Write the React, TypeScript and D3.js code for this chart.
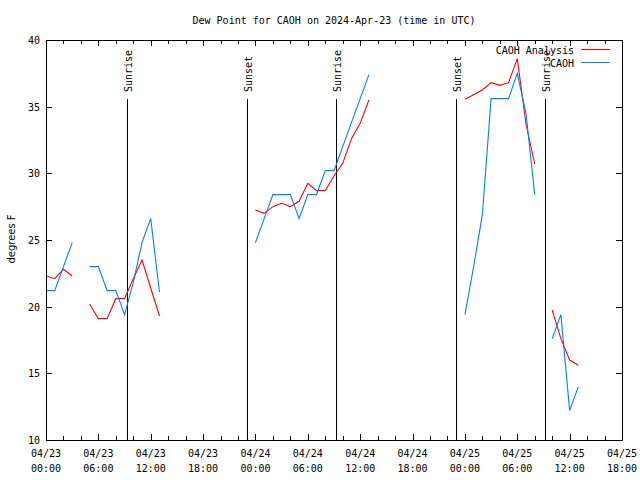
import React from "react";
import * as d3 from "d3";

const hours: number[] = Array.from({ length: 62 }, (_, i) => i);

const analysis: (number | null)[] = [
  22.3, 22.1, 22.8, 22.3, null, 20.2, 19.1, 19.1, 20.6, 20.6, 22.1, 23.5, 21.4, 19.3,
  null, null, null, null, null, null, null, null, null, null,
  27.25, 27.0, 27.5, 27.75, 27.5, 27.9, 29.25, 28.7, 28.7, 29.8, 30.75, 32.6, 33.75, 35.5,
  null, null, null, null, null, null, null, null, null, null,
  35.55, 35.9, 36.25, 36.8, 36.6, 36.8, 38.6, 33.7, 30.7, null, 19.75, 17.6, 16.0, 15.6,
];

const observed: (number | null)[] = [
  21.2, 21.2, 23.0, 24.8, null, 23.0, 23.0, 21.2, 21.2, 19.4, 21.8, 24.8, 26.6, 21.1,
  null, null, null, null, null, null, null, null, null, null,
  24.8, 26.6, 28.4, 28.4, 28.4, 26.6, 28.4, 28.4, 30.2, 30.2, 32.0, 33.8, 35.6, 37.4,
  null, null, null, null, null, null, null, null, null, null,
  19.4, 23.0, 26.9, 35.6, 35.6, 35.6, 37.5, 34.5, 28.4, null, 17.6, 19.4, 12.2, 14.0,
];

const sunEvents: { hour: number; label: string }[] = [
  { hour: 9.28, label: "Sunrise" },
  { hour: 23.03, label: "Sunset" },
  { hour: 33.23, label: "Sunrise" },
  { hour: 46.98, label: "Sunset" },
  { hour: 57.18, label: "Sunrise" },
];

const xTickHours: number[] = [0, 6, 12, 18, 24, 30, 36, 42, 48, 54, 60, 66];
const xTickDates: string[] = ["04/23", "04/23", "04/23", "04/23", "04/24", "04/24", "04/24", "04/24", "04/25", "04/25", "04/25", "04/25"];
const xTickTimes: string[] = ["00:00", "06:00", "12:00", "18:00", "00:00", "06:00", "12:00", "18:00", "00:00", "06:00", "12:00", "18:00"];
const yTicks: number[] = [10, 15, 20, 25, 30, 35, 40];

const seriesNames: string[] = ["CAOH Analysis", "CAOH"];
const seriesColors: string[] = ["#ff0000", "#0080ff"];

const W = 640;
const H = 480;
const L = 46;
const R = 622;
const T = 40;
const B = 440;
const MONO = "'DejaVu Sans Mono', 'Liberation Mono', monospace";

export default function App() {
  const x = d3.scaleLinear().domain([0, 66]).range([L, R]);
  const y = d3.scaleLinear().domain([10, 40]).range([B, T]);

  const mk = (vals: (number | null)[]) =>
    d3
      .line<number | null>()
      .defined((d) => d !== null)
      .x((_, i) => x(hours[i]))
      .y((d) => y(d as number))(vals) || "";

  const minor = d3.range(0, 67, 2);

  return (
    <svg
      width={W}
      height={H}
      style={{ position: "absolute", left: 0, top: 0, background: "#fff" }}
      fontFamily={MONO}
      fontSize={10}
    >
      <rect x={0} y={0} width={W} height={H} fill="#fff" />
      <text x={(L + R) / 2} y={24} textAnchor="middle" fill="#000">
        Dew Point for CAOH on 2024-Apr-23 (time in UTC)
      </text>

      {/* ticks */}
      <g stroke="#000" strokeWidth={1} shapeRendering="crispEdges">
        {minor.map((h) => {
          const major = h % 6 === 0;
          const len = major ? 6 : 4;
          const xx = Math.round(x(h)) + 0.5;
          return (
            <g key={h}>
              <line x1={xx} x2={xx} y1={B} y2={B - len} />
              <line x1={xx} x2={xx} y1={T} y2={T + len} />
            </g>
          );
        })}
        {yTicks.map((v) => {
          const yy = Math.round(y(v)) + 0.5;
          return (
            <g key={v}>
              <line x1={L} x2={L + 6} y1={yy} y2={yy} />
              <line x1={R} x2={R - 6} y1={yy} y2={yy} />
            </g>
          );
        })}
      </g>

      {/* y tick labels */}
      {yTicks.map((v) => (
        <text key={v} x={40} y={y(v) + 4} textAnchor="end" fill="#000">
          {v}
        </text>
      ))}

      {/* x tick labels */}
      {xTickHours.map((h, i) => (
        <g key={h}>
          <text x={x(h)} y={457} textAnchor="middle" fill="#000">
            {xTickDates[i]}
          </text>
          <text x={x(h)} y={472} textAnchor="middle" fill="#000">
            {xTickTimes[i]}
          </text>
        </g>
      ))}

      <text
        transform={`translate(15,239) rotate(-90)`}
        textAnchor="middle"
        fontFamily="'DejaVu Sans', sans-serif"
        fontSize={10}
        fill="#000"
      >
        degrees F
      </text>

      {/* sun events */}
      {sunEvents.map((s, i) => {
        const xx = Math.round(x(s.hour)) + 0.5;
        return (
          <g key={i}>
            <line x1={xx} x2={xx} y1={99} y2={B} stroke="#000" strokeWidth={1} shapeRendering="crispEdges" />
            <text transform={`translate(${xx + 4},92) rotate(-90)`} textAnchor="start" fill="#000">
              {s.label}
            </text>
          </g>
        );
      })}

      {/* data lines */}
      <path d={mk(analysis)} fill="none" stroke={seriesColors[0]} strokeWidth={1.1} />
      <path d={mk(observed)} fill="none" stroke={seriesColors[1]} strokeWidth={1.1} />

      {/* legend */}
      {seriesNames.map((n, i) => (
        <g key={n}>
          <text x={574} y={54 + i * 13} textAnchor="end" fill="#000">
            {n}
          </text>
          <line x1={581} x2={610} y1={49.5 + i * 13} y2={49.5 + i * 13} stroke={seriesColors[i]} strokeWidth={1} />
        </g>
      ))}

      {/* frame */}
      <rect x={L + 0.5} y={T + 0.5} width={R - L} height={B - T} fill="none" stroke="#000" strokeWidth={1} shapeRendering="crispEdges" />
    </svg>
  );
}
